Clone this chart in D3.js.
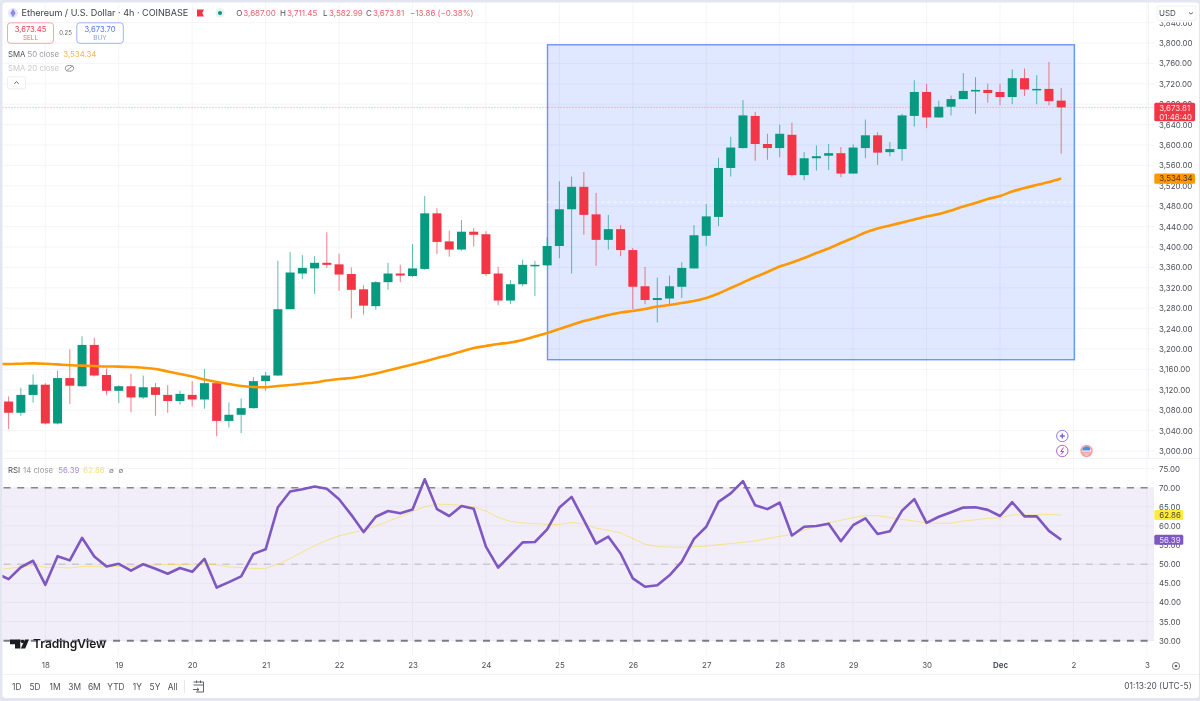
<!DOCTYPE html>
<html>
<head>
<meta charset="utf-8">
<script src="https://cdn.jsdelivr.net/npm/d3@7"></script>
<style>
  html, body { margin: 0; padding: 0; background: #fff; }
  svg { display: block; font-family: Inter, "Noto Sans", sans-serif; filter: blur(0.35px); }
  text { fill: #4d5058; }
</style>
</head>
<body>
<svg id="chart" width="1200" height="701"></svg>
<script>
// 4h candles
var opens = [3097,3075,3110,3130,3054,3143,3127,3208,3149,3118,3127,3105,3125,3110,3098,3110,3101,3133,3059,3071,3084,3137,3148,3278,3348,3358,3369,3366,3347,3317,3284,3331,3348,3343,3357,3466,3411,3395,3430,3425,3348,3295,3327,3363,3364,3402,3474,3518,3464,3414,3435,3394,3323,3296,3299,3322,3358,3422,3459,3555,3594,3657,3602,3594,3620,3541,3574,3579,3584,3544,3594,3619,3586,3592,3657,3704,3654,3675,3690,3705,3708,3704,3694,3731,3708,3710,3687.00]
var highs = [3107,3124,3150,3133,3157,3199,3225,3222,3162,3129,3151,3148,3133,3129,3118,3137,3161,3137,3095,3103,3145,3155,3373,3390,3384,3382,3429,3387,3360,3325,3333,3369,3365,3406,3500,3476,3432,3453,3437,3431,3361,3335,3375,3373,3419,3529,3538,3547,3506,3463,3443,3398,3361,3340,3344,3370,3443,3484,3575,3616,3688,3665,3622,3640,3644,3586,3599,3602,3596,3601,3650,3625,3606,3661,3727,3720,3687,3697,3741,3733,3720,3720,3748,3750,3737,3763,3711.45]
var lows = [3043,3069,3095,3052,3052,3092,3126,3146,3110,3094,3076,3102,3069,3075,3091,3087,3083,3029,3046,3035,3083,3118,3147,3278,3337,3308,3359,3314,3260,3268,3277,3316,3331,3341,3355,3386,3381,3393,3401,3343,3286,3288,3323,3304,3363,3378,3348,3424,3363,3395,3382,3278,3288,3252,3288,3300,3358,3402,3441,3538,3593,3569,3571,3576,3538,3531,3550,3551,3537,3544,3574,3561,3578,3569,3636,3633,3654,3658,3690,3661,3683,3678,3680,3696,3680,3678,3582.99]
var closes = [3075,3110,3130,3054,3143,3128,3208,3148,3118,3127,3105,3125,3110,3098,3112,3101,3133,3059,3071,3084,3137,3148,3278,3350,3359,3369,3365,3346,3316,3285,3331,3348,3344,3358,3466,3410,3395,3430,3424,3347,3295,3327,3365,3365,3402,3474,3518,3463,3414,3435,3394,3322,3296,3300,3323,3359,3423,3460,3555,3595,3658,3602,3594,3622,3541,3574,3578,3584,3544,3595,3619,3585,3592,3658,3704,3654,3675,3690,3706,3708,3702,3694,3731,3709,3710,3686,3673.81]

// SMA 50, starts one bar before the first visible candle
var smaValues = [3170.6,3170.6,3171.2,3171.8,3171.2,3169.8,3168.0,3167.4,3166.6,3165.7,3165.5,3164.7,3163.1,3160.8,3155.9,3151,3146.1,3140.2,3135.3,3131.4,3127.4,3125.5,3124.9,3127.4,3129.4,3131.9,3134.3,3138.2,3141.1,3143.1,3147,3151.9,3157.8,3163.7,3169.6,3175.5,3182.3,3188.2,3195.1,3201.9,3205.9,3209.8,3212.7,3217.6,3224.5,3231.3,3239.2,3247,3254.9,3260.8,3266.6,3271.5,3274.5,3278.4,3283.3,3286.2,3290.2,3294.1,3300,3308.8,3319.6,3330.4,3341.2,3351,3361.7,3369.6,3378.4,3388.2,3397.1,3407.8,3417.6,3428.4,3436.3,3442.1,3448,3453.9,3459.8,3464.7,3471.6,3479.4,3486.3,3494.1,3500,3508.8,3515.7,3521.6,3527.4,3534.34]

// RSI 14 and its moving average, same start as the SMA
var rsiValues = [47.6,46.1,49.2,50.9,44.6,52.1,51,56.9,52,49.4,50.1,48.3,50,48.8,47.5,49,48,51.4,43.9,45.3,46.8,52.7,53.9,64.9,69,69.6,70.3,69.7,67,62.9,58.4,62.4,63.9,63.3,64.3,72.2,64.4,62.6,65.2,64.5,54.6,49.1,52.4,55.7,55.8,59.1,64.8,67.6,61.5,55.4,57.2,52.8,46.3,44.1,44.5,47.1,50.7,56.6,59.8,66.3,68.5,71.7,65.4,64.4,66.1,57.5,59.8,60,60.6,56,60.2,62,57.9,58.6,64,67,60.8,62.4,63.6,64.8,64.9,64.2,62.6,66.2,62.5,62.5,58.7,56.39]
var rsiMaValues = [48.5,48.9,49.3,49.7,49.2,49.2,49,49.4,49.4,49.3,49.4,49.5,49.7,49.8,49.9,49.9,50,50,49.8,49.3,49.1,48.9,48.9,50,51.5,53.2,54.8,56.3,57.4,58.2,58.9,60,61.2,62.4,63.8,65,65.7,65.6,65.4,65,63.9,62.2,61.2,60.8,60.6,60.4,60.4,60.9,60.5,59.4,58.9,58.2,56.7,55.2,54.6,54.5,54.4,54.6,54.7,55.1,55.4,55.7,56.1,56.7,57.3,57.7,58.9,59.9,60.8,61.5,62.2,62.7,62.7,62.2,61.7,61.3,60.8,60.7,60.7,61.3,61.6,62,62.1,62.9,62.9,62.9,63,62.86]

var priceTicks = [3000,3040,3080,3120,3160,3200,3240,3280,3320,3360,3400,3440,3480,3520,3560,3600,3640,3680,3720,3760,3800,3840]
var rsiTicks = [30,35,40,45,50,55,60,65,70,75]
var dayLabels = ["18","19","20","21","22","23","24","25","26","27","28","29","30","Dec","2","3"]
var dayBars = [3,9,15,21,27,33,39,45,51,57,63,69,75,81,87,93]
var rangeButtons = ["1D","5D","1M","3M","6M","YTD","1Y","5Y","All"]
var rangeCenters = [16.7,35,55,74.7,94.3,116,137.3,155,172.7]

var up = "#089981", down = "#f23645", orange = "#ff9800", purple = "#7e57c2", yellow = "#fdd835"
var paneLeft = 2.5, paneRight = 1154, priceTop = 3, priceBottom = 458.5, rsiBottom = 655

var svg = d3.select("#chart")

var x = d3.scaleLinear().domain([0, 86]).range([8.6, 1061.2])
var y = d3.scaleLinear().domain([3000, 3800]).range([451, 43])
var yRsi = d3.scaleLinear().domain([30, 70]).range([640.7, 487.7])

svg.append("rect").attr("width", 1200).attr("height", 701).attr("fill", "#e3e6f1")
svg.append("rect").attr("x", paneLeft).attr("y", 2.5).attr("width", 1196.5).attr("height", 695.5).attr("rx", 3).attr("fill", "#fff")

var defs = svg.append("defs")
defs.append("clipPath").attr("id", "priceClip").append("rect")
  .attr("x", paneLeft).attr("y", priceTop).attr("width", paneRight - paneLeft).attr("height", priceBottom - priceTop)
defs.append("clipPath").attr("id", "rsiClip").append("rect")
  .attr("x", paneLeft).attr("y", priceBottom).attr("width", paneRight - paneLeft).attr("height", rsiBottom - priceBottom)

// grid
var grid = svg.append("g").attr("stroke", "#f4f5f8").attr("stroke-width", 1)
grid.selectAll(".hp").data(priceTicks).enter().append("line")
  .attr("x1", paneLeft).attr("x2", paneRight).attr("y1", function(d){ return y(d) }).attr("y2", function(d){ return y(d) })
grid.selectAll(".hr").data(rsiTicks).enter().append("line")
  .attr("x1", paneLeft).attr("x2", paneRight).attr("y1", function(d){ return yRsi(d) }).attr("y2", function(d){ return yRsi(d) })
grid.selectAll(".v").data(dayBars).enter().append("line")
  .attr("x1", function(d){ return x(d) }).attr("x2", function(d){ return x(d) }).attr("y1", priceTop).attr("y2", rsiBottom)

// long position box
var boxFrom = 44.03, boxTo = 87.08, boxHigh = 3796.5, boxLow = 3179
var pricePane = svg.append("g").attr("clip-path", "url(#priceClip)")
pricePane.append("rect")
  .attr("x", x(boxFrom)).attr("y", y(boxHigh))
  .attr("width", x(boxTo) - x(boxFrom)).attr("height", y(boxLow) - y(boxHigh))
  .attr("fill", "#2962ff").attr("fill-opacity", 0.15)
  .attr("stroke", "#6c93f6").attr("stroke-width", 1.4)
pricePane.append("line")
  .attr("x1", x(boxFrom)).attr("x2", x(boxTo))
  .attr("y1", y((boxHigh + boxLow) / 2)).attr("y2", y((boxHigh + boxLow) / 2))
  .attr("stroke", "#fff").attr("stroke-opacity", 0.7).attr("stroke-dasharray", "3 3")

// last price line
pricePane.append("line")
  .attr("x1", paneLeft).attr("x2", paneRight)
  .attr("y1", y(closes[86])).attr("y2", y(closes[86]))
  .attr("stroke", down).attr("stroke-opacity", 0.5).attr("stroke-dasharray", "1 2")

// candles
var bars = d3.range(opens.length)
pricePane.selectAll(".wick").data(bars).enter().append("line")
  .attr("x1", function(i){ return x(i) }).attr("x2", function(i){ return x(i) })
  .attr("y1", function(i){ return y(highs[i]) }).attr("y2", function(i){ return y(lows[i]) })
  .attr("stroke", function(i){ return closes[i] >= opens[i] ? up : down })
  .attr("stroke-opacity", 0.65).attr("stroke-width", 1)
pricePane.selectAll(".body").data(bars).enter().append("rect")
  .attr("x", function(i){ return x(i) - 4.5 }).attr("width", 9)
  .attr("y", function(i){ return y(Math.max(opens[i], closes[i])) })
  .attr("height", function(i){ return Math.max(1.5, Math.abs(y(opens[i]) - y(closes[i]))) })
  .attr("fill", function(i){ return closes[i] >= opens[i] ? up : down })

// SMA
var smaLine = d3.line().x(function(d, i){ return x(i - 1) }).y(function(d){ return y(d) }).curve(d3.curveMonotoneX)
pricePane.append("path").attr("d", smaLine(smaValues))
  .attr("fill", "none").attr("stroke", orange).attr("stroke-width", 2.6)

// RSI pane
var rsiPane = svg.append("g").attr("clip-path", "url(#rsiClip)")
rsiPane.append("rect")
  .attr("x", paneLeft).attr("width", paneRight - paneLeft)
  .attr("y", yRsi(70)).attr("height", yRsi(30) - yRsi(70))
  .attr("fill", purple).attr("fill-opacity", 0.1)
var rsiLevels = [
  {v: 70, color: "#86848e", width: 1.6},
  {v: 50, color: "#bbb8c2", width: 1},
  {v: 30, color: "#7d7a86", width: 2.1}
]
rsiPane.selectAll(".level").data(rsiLevels).enter().append("line")
  .attr("x1", paneLeft + 1).attr("x2", paneRight)
  .attr("y1", function(d){ return yRsi(d.v) }).attr("y2", function(d){ return yRsi(d.v) })
  .attr("stroke", function(d){ return d.color }).attr("stroke-width", function(d){ return d.width })
  .attr("stroke-dasharray", "7 6.7")
var rsiLine = d3.line().x(function(d, i){ return x(i - 1) }).y(function(d){ return yRsi(d) })
rsiPane.append("path").attr("d", rsiLine(rsiMaValues))
  .attr("fill", "none").attr("stroke", yellow).attr("stroke-opacity", 0.55).attr("stroke-width", 1)
rsiPane.append("path").attr("d", rsiLine(rsiValues))
  .attr("fill", "none").attr("stroke", purple).attr("stroke-width", 2.6).attr("stroke-linejoin", "round")

// separators
var seps = svg.append("g").attr("stroke", "#f1f2f5")
seps.append("line").attr("x1", paneLeft).attr("x2", 1199).attr("y1", 458.5).attr("y2", 458.5)
seps.append("line").attr("x1", paneLeft).attr("x2", 1199).attr("y1", 674.5).attr("y2", 674.5)
seps.append("line").attr("x1", 1148.5).attr("x2", 1148.5).attr("y1", 3).attr("y2", 458)

// axes
var priceAxis = svg.append("g").attr("transform", "translate(" + paneRight + ",0)")
  .call(d3.axisRight(y).tickValues(priceTicks).tickFormat(d3.format(",.2f")).tickSize(0).tickPadding(5))
var rsiAxis = svg.append("g").attr("transform", "translate(" + paneRight + ",0)")
  .call(d3.axisRight(yRsi).tickValues(rsiTicks).tickFormat(d3.format(".2f")).tickSize(0).tickPadding(5))
var timeAxis = svg.append("g").attr("transform", "translate(0,659)")
  .call(d3.axisBottom(x).tickValues(dayBars).tickFormat(function(d, i){ return dayLabels[i] }).tickSize(0).tickPadding(3))
svg.selectAll(".domain").remove()
svg.selectAll(".tick text").attr("font-family", "Inter").attr("font-size", 7.9).style("fill", "#4d5058")
timeAxis.selectAll(".tick text").filter(function(d, i){ return dayLabels[i] === "Dec" }).attr("font-weight", 700)

// price tags
function tag(cy, h, w, color, lines, textColor) {
  svg.append("rect").attr("x", 1154.3).attr("y", cy).attr("width", w).attr("height", h).attr("rx", 1.5).attr("fill", color)
  lines.forEach(function(t, k) {
    svg.append("text").attr("x", 1159.3).attr("y", cy + 7.9 + k * 9.3).attr("font-size", 7.9).style("fill", textColor).text(t)
  })
}
tag(102.7, 18.6, 40.7, down, [d3.format(",.2f")(closes[86]), "01:46:40"], "#fde3e5")
tag(y(smaValues[87]) - 5, 10.2, 40.7, orange, [d3.format(",.2f")(smaValues[87])], "#43372a")
tag(yRsi(rsiMaValues[87]) - 5, 10, 29, "#ffeb3b", [d3.format(".2f")(rsiMaValues[87])], "#4d4a20")
tag(yRsi(rsiValues[87]) - 5, 10, 29, purple, [d3.format(".2f")(rsiValues[87])], "#ece6f8")

// USD button, sits over the top price tick
svg.append("rect").attr("x", 1154).attr("y", 3).attr("width", 44).attr("height", 19.3).attr("fill", "#fff")
svg.append("rect").attr("x", 1157).attr("y", 6).attr("width", 39).attr("height", 14.5).attr("rx", 2).attr("fill", "#fff").attr("stroke", "#f0f1f4")
svg.append("text").attr("x", 1159).attr("y", 16).attr("font-size", 8).text("USD")
svg.append("path").attr("d", "M1189 12.5 l2 1.6 l2 -1.6").attr("fill", "none").attr("stroke", "#555").attr("stroke-width", 0.9)

// header legend
function label(tx, ty, str, size, color, weight) {
  return svg.append("text").attr("x", tx).attr("y", ty).attr("font-size", size).attr("font-weight", weight || 400).style("fill", color).text(str)
}
svg.append("circle").attr("cx", 13).attr("cy", 13).attr("r", 5).attr("fill", "#e8e6f8")
svg.append("path").attr("d", "M13 8.8 L15.6 13 L13 17.2 L10.4 13 Z").attr("fill", "#8f88ee")
label(21.5, 16.3, "Ethereum / U.S. Dollar · 4h · COINBASE", 9.06, "#3f424a")
svg.append("path").attr("d", "M197 9.5 H204 L202.3 13 L204 16.5 H197 Z").attr("fill", down)
svg.append("circle").attr("cx", 220).attr("cy", 13).attr("r", 4.7).attr("fill", "#e6f3f1")
svg.append("circle").attr("cx", 220).attr("cy", 13).attr("r", 2.1).attr("fill", up)
var ohlcLetters = ["O","H","L","C"], ohlcX = [236.3,280,323,366], ohlcVals = [opens[86],highs[86],lows[86],closes[86]]
ohlcLetters.forEach(function(l, k) {
  label(ohlcX[k], 16, l, 8, "#4d5058")
  label(ohlcX[k] + (k == 2 ? 6 : 7), 16, d3.format(",.2f")(ohlcVals[k]), 8, "#f0606c")
})
label(410, 16, "−13.86 (−0.38%)", 8, "#f0606c")

svg.append("rect").attr("x", 7.5).attr("y", 22.8).attr("width", 46).attr("height", 20.5).attr("rx", 3).attr("fill", "#fff").attr("stroke", "#f6a5ac")
label(30.5, 32, "3,673.45", 7.6, "#f23645").attr("text-anchor", "middle")
label(30.5, 40, "SELL", 6.4, "#f56a75").attr("text-anchor", "middle")
label(65.5, 35, "0.25", 6, "#666").attr("text-anchor", "middle")
svg.append("rect").attr("x", 76.8).attr("y", 22.8).attr("width", 46.5).attr("height", 20.5).attr("rx", 3).attr("fill", "#fff").attr("stroke", "#9db5f7")
label(100, 32, "3,673.70", 7.6, "#4c78ee").attr("text-anchor", "middle")
label(100, 40, "BUY", 6.4, "#7f9ff2").attr("text-anchor", "middle")

label(8, 56.7, "SMA", 7.8, "#4d5058")
label(27.5, 56.7, "50 close", 7.8, "#9a9ca3")
label(63.3, 56.7, "3,534.34", 7.8, "#ffb14a")
label(8, 71.3, "SMA 20 close", 7.8, "#c9cace")
svg.append("ellipse").attr("cx", 69.5).attr("cy", 68.3).attr("rx", 4.2).attr("ry", 2.9).attr("fill", "none").attr("stroke", "#85878d").attr("stroke-width", 0.9)
svg.append("path").attr("d", "M66 71 L73 65.6").attr("stroke", "#85878d").attr("stroke-width", 0.9)
svg.append("rect").attr("x", 7.5).attr("y", 76.8).attr("width", 18).attr("height", 12).attr("rx", 2).attr("fill", "#fff").attr("stroke", "#eceef1")
svg.append("path").attr("d", "M14.3 83.8 L16.5 81.6 L18.7 83.8").attr("fill", "none").attr("stroke", "#555").attr("stroke-width", 0.9)

// RSI legend
label(8, 473, "RSI", 7.8, "#4d5058")
label(23, 473, "14 close", 7.8, "#9a9ca3")
label(58.3, 473, "56.39", 7.8, "#a28bd6")
label(83.3, 473, "62.86", 7.8, "#f6e27a")
label(109, 473, "∅", 7, "#777")
label(118.5, 473, "∅", 7, "#777")

// event markers
svg.append("circle").attr("cx", 1062.3).attr("cy", 436).attr("r", 5.7).attr("fill", "#fff").attr("stroke", "#8e7af0").attr("stroke-width", 1)
svg.append("path").attr("d", "M1059.8 436 h5 M1062.3 433.5 v5").attr("stroke", "#7a5fe6").attr("stroke-width", 1.4)
svg.append("circle").attr("cx", 1062.3).attr("cy", 451).attr("r", 5.7).attr("fill", "#fff").attr("stroke", "#b45fd6").attr("stroke-width", 1)
svg.append("path").attr("d", "M1063.5 447.5 L1060.8 451.5 H1063.6 L1061 454.5").attr("fill", "none").attr("stroke", "#a044cc").attr("stroke-width", 1)
svg.append("circle").attr("cx", 1086.5).attr("cy", 451).attr("r", 6.2).attr("fill", "#f7a2a2")
svg.append("circle").attr("cx", 1086.5).attr("cy", 451).attr("r", 4.4).attr("fill", "#fff")
svg.append("path").attr("d", "M1082.2 450.5 A4.4 4.4 0 0 1 1090 448 L1090 450.5 Z").attr("fill", "#4a90e2")
svg.append("path").attr("d", "M1082.3 452.2 H1090.7 M1083 454 H1090").attr("stroke", "#ef6a6a").attr("stroke-width", 0.9)

// TradingView mark
svg.append("path").attr("d", "M10 639.5 H20.3 V648.5 H15 V644.2 H10 Z").attr("fill", "#1b1c20")
svg.append("circle").attr("cx", 22.6).attr("cy", 641.5).attr("r", 1.8).attr("fill", "#1b1c20")
svg.append("path").attr("d", "M25 639.5 H29 L25.2 648.5 H20.8 Z").attr("fill", "#1b1c20")
label(33, 648.4, "TradingView", 12, "#1b1c20", 600)

// bottom toolbar
rangeButtons.forEach(function(b, k) {
  label(rangeCenters[k], 689.5, b, 8.4, "#4d5058").attr("text-anchor", "middle")
})
svg.append("line").attr("x1", 184.5).attr("x2", 184.5).attr("y1", 680).attr("y2", 693).attr("stroke", "#e6e8ec")
svg.append("path").attr("d", "M193.5 682 H203.5 V692 H196 M193.5 685 H203.5 M196.5 680.5 V683 M200.5 680.5 V683 M193 689.5 H199 M197 687.8 L199 689.5 L197 691.2")
  .attr("fill", "none").attr("stroke", "#50535a").attr("stroke-width", 0.9)
label(1191.7, 689, "01:13:20 (UTC-5)", 8.4, "#4d5058").attr("text-anchor", "end")
svg.append("circle").attr("cx", 1176).attr("cy", 666).attr("r", 3.6).attr("fill", "none").attr("stroke", "#666").attr("stroke-width", 0.9)
svg.append("circle").attr("cx", 1176).attr("cy", 666).attr("r", 1.3).attr("fill", "#666")
</script>
</body>
</html>
